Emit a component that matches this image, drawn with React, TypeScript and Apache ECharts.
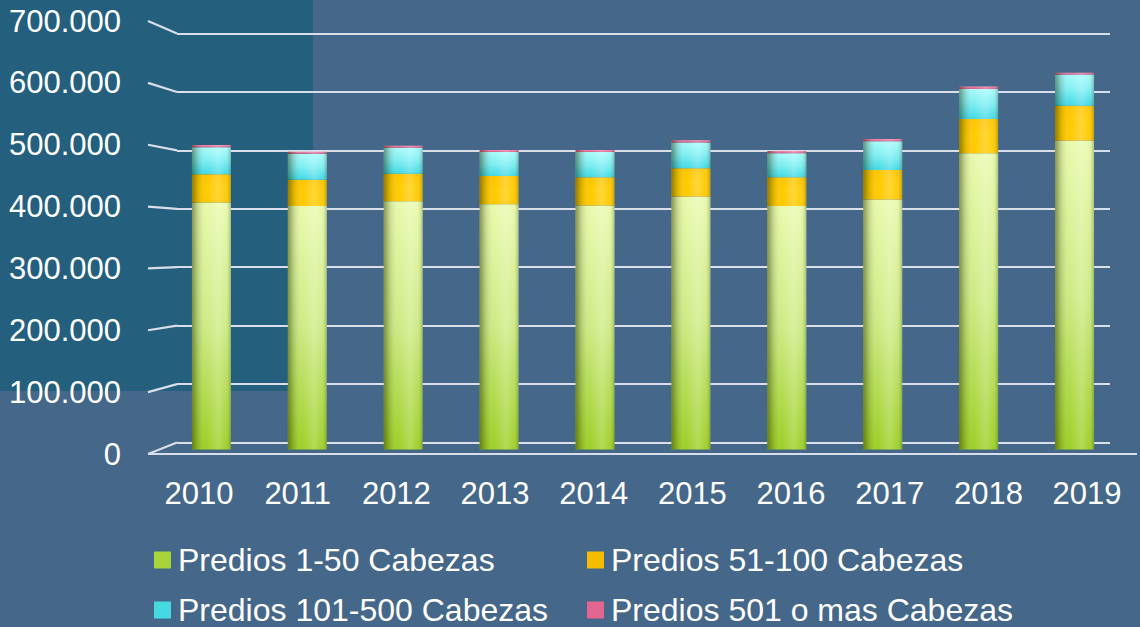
import React, { useEffect, useRef } from "react";
import * as echarts from "echarts";

const years = ["2010", "2011", "2012", "2013", "2014", "2015", "2016", "2017", "2018", "2019"];
const seriesNames = [
  "Predios 1-50 Cabezas",
  "Predios 51-100 Cabezas",
  "Predios 101-500 Cabezas",
  "Predios 501 o mas Cabezas",
];
const predios1a50 = [411000, 405000, 413000, 408000, 406000, 421000, 405000, 416000, 493000, 514000];
const predios51a100 = [47000, 44000, 46000, 47000, 47000, 47000, 48000, 49000, 57000, 58000];
const predios101a500 = [45000, 43000, 43000, 40000, 42000, 43000, 40000, 48000, 50000, 52000];
const predios501mas = [3500, 3500, 3500, 3500, 3500, 3500, 3500, 3500, 4000, 3000];
const yTicks = [0, 100000, 200000, 300000, 400000, 500000, 600000, 700000];

const FONT = "'Liberation Sans', Arial, sans-serif";

function fmt(v: number) {
  return String(Math.round(v)).replace(/\B(?=(\d{3})+(?!\d))/g, ".");
}

export default function App() {
  const ref = useRef<HTMLDivElement>(null);
  useEffect(() => {
    if (!ref.current) return;
    const chart = echarts.init(ref.current, undefined, { renderer: "svg" });
    const totals = years.map(
      (_, i) => predios1a50[i] + predios51a100[i] + predios101a500[i] + predios501mas[i]
    );
    const vgrad = (top: string, mid: string, bottom: string) =>
      new echarts.graphic.LinearGradient(0, 0, 0, 1, [
        { offset: 0, color: top },
        { offset: 0.5, color: mid },
        { offset: 1, color: bottom },
      ]);
    const colors = [
      vgrad("#E8FAAC", "#CDEB84", "#9ECF26"),
      vgrad("#FFC400", "#FFCC00", "#FFC800"),
      vgrad("#A8FBFB", "#7DEEF2", "#3FD8E6"),
      vgrad("#F08AB0", "#E8709A", "#D85A88"),
    ];
    const flat = ["#A8D43A", "#F6BC00", "#45DAE2", "#E26690"];
    const data = [predios1a50, predios51a100, predios101a500, predios501mas];
    const legendPos = [
      { left: 154, top: 544 },
      { left: 587, top: 544 },
      { left: 154, top: 594 },
      { left: 587, top: 594 },
    ];
    const option: any = {
      animation: false,
      backgroundColor: "#45688A",
      grid: [
        { left: 177, top: 33.5, width: 933, height: 409 },
        { left: 148, top: 21, width: 935, height: 433 },
        { left: 163.5, top: 28.8, width: 959, height: 420.7 },
        { left: 149.7, top: 21, width: 986.7, height: 433 },
      ],
      xAxis: [
        { gridIndex: 0, type: "category", data: years, show: false },
        { gridIndex: 1, type: "category", data: years, show: false },
        { gridIndex: 2, type: "category", data: years, show: false },
        { gridIndex: 2, type: "category", data: years, show: false },
        {
          gridIndex: 3,
          type: "category",
          data: years,
          axisLine: { show: false },
          axisTick: { show: false },
          axisLabel: { color: "#FFFFFF", fontSize: 31, fontFamily: FONT, margin: 24 },
        },
      ],
      yAxis: [
        {
          gridIndex: 0,
          type: "value",
          min: 0,
          max: 700000,
          interval: 100000,
          axisLabel: { show: false },
          axisLine: { show: false },
          axisTick: { show: false },
          splitLine: { show: true, lineStyle: { color: "#DADDEA", width: 2.2 } },
        },
        {
          gridIndex: 1,
          type: "value",
          min: 0,
          max: 700000,
          interval: 100000,
          axisLine: { show: false },
          axisTick: { show: false },
          splitLine: { show: false },
          axisLabel: {
            color: "#FFFFFF",
            fontSize: 31,
            fontFamily: FONT,
            margin: 27,
            formatter: (v: number) => fmt(v),
          },
        },
        { gridIndex: 2, type: "value", min: 0, max: 700000, show: false },
        { gridIndex: 3, type: "value", min: 0, max: 700000, show: false },
      ],
      legend: seriesNames.map((n, i) => ({
        data: [{ name: n, itemStyle: { color: flat[i] } }],
        left: legendPos[i].left,
        top: legendPos[i].top,
        padding: 0,
        icon: "rect",
        itemWidth: 17,
        itemHeight: 17,
        selectedMode: false,
        textStyle: { color: "#FFFFFF", fontSize: 32, fontFamily: FONT, padding: [0, 0, 0, 2] },
      })),
      series: [
        ...seriesNames.map((n, i) => ({
          name: n,
          type: "bar",
          xAxisIndex: 2,
          yAxisIndex: 2,
          stack: "total",
          barWidth: 39,
          data: data[i],
          itemStyle: { color: colors[i] },
        })),
        {
          name: "shade",
          type: "bar",
          xAxisIndex: 3,
          yAxisIndex: 2,
          barWidth: 39,
          z: 5,
          silent: true,
          data: totals,
          itemStyle: {
            color: new echarts.graphic.LinearGradient(0, 0, 1, 0, [
              { offset: 0, color: "rgba(30,40,0,0.48)" },
              { offset: 0.14, color: "rgba(30,40,0,0.18)" },
              { offset: 0.38, color: "rgba(255,255,255,0.0)" },
              { offset: 0.68, color: "rgba(255,255,255,0.22)" },
              { offset: 0.86, color: "rgba(255,255,255,0.04)" },
              { offset: 1, color: "rgba(30,40,0,0.28)" },
            ]),
          },
        },
      ],
    };
    chart.setOption(option);

    const lines: any[] = [
      {
        type: "rect",
        z: -10,
        silent: true,
        shape: { x: 0, y: 0, width: 313, height: 391 },
        style: { fill: "#245F7E" },
      },
    ];
    yTicks.forEach((v) => {
      const yb = chart.convertToPixel({ yAxisIndex: 0 }, v) as number;
      const yf = chart.convertToPixel({ yAxisIndex: 1 }, v) as number;
      lines.push({
        type: "line",
        silent: true,
        shape: { x1: 148, y1: yf, x2: 177, y2: yb },
        style: { stroke: "#DADDEA", lineWidth: 2.2 },
      });
    });
    const yf0 = chart.convertToPixel({ yAxisIndex: 1 }, 0) as number;
    lines.push({
      type: "line",
      silent: true,
      shape: { x1: 148, y1: yf0, x2: 1137, y2: yf0 },
      style: { stroke: "#DADDEA", lineWidth: 2.2 },
    });
    chart.setOption({ graphic: { elements: lines } });

    return () => chart.dispose();
  }, []);
  return (
    <div
      ref={ref}
      style={{ position: "fixed", left: 0, top: 0, width: 1140, height: 627 }}
    />
  );
}
